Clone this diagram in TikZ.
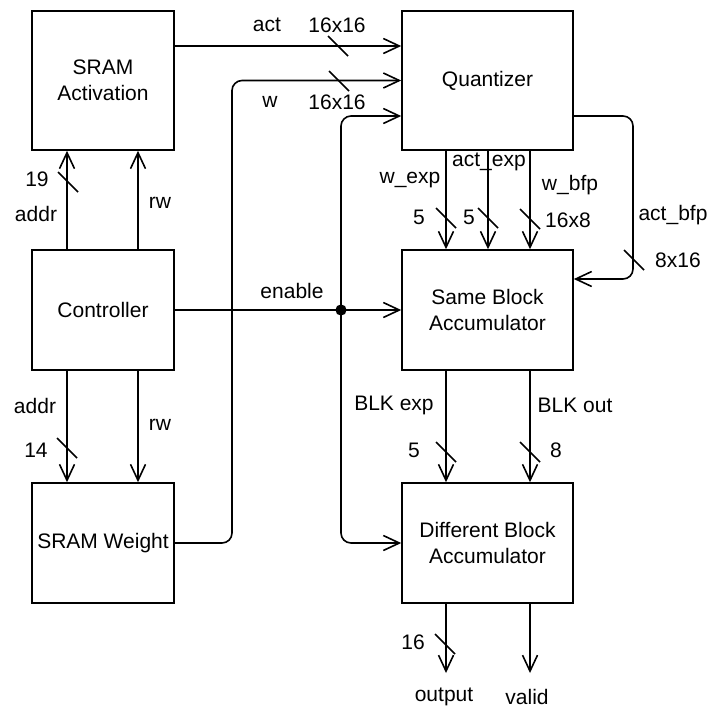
\documentclass[tikz,border=0pt]{standalone}
\usepackage{fontspec}
\setmainfont{Liberation Sans}
\usetikzlibrary{arrows.meta}
\begin{document}
\begin{tikzpicture}[font=\fontsize{10.5}{13}\selectfont,x=.5pt,y=-.5pt,line width=.8pt,
 >={Straight Barb[length=8pt,width=7.5pt]},
 blk/.style={draw,align=center,minimum width=71pt,minimum height=60pt,inner sep=2pt},
 lbl/.style={inner sep=0pt},
 dot/.style={circle,fill,inner sep=0pt,minimum size=5.6pt}]
\useasboundingbox (0,0) rectangle (710,708);
% blocks
\node[blk,minimum height=69.5pt] (sact) at (103,80.5) {SRAM\\Activation};
\node[blk] (ctrl) at (103,310) {Controller};
\node[blk] (swt) at (103,543) {SRAM Weight};
\node[blk,minimum width=85.5pt,minimum height=69.5pt] (quant) at (487.5,80.5) {Quantizer};
\node[blk,minimum width=85.5pt] (same) at (487.5,310) {Same Block\\Accumulator};
\node[blk,minimum width=85.5pt] (diff) at (487.5,543) {Different Block\\Accumulator};
% controller to memories
\draw[->] ([xshift=-18pt]ctrl.north) -- ([xshift=-18pt]sact.south);
\draw[->] ([xshift=17.5pt]ctrl.north) -- ([xshift=17.5pt]sact.south);
\draw[->] ([xshift=-18pt]ctrl.south) -- ([xshift=-18pt]swt.north);
\draw[->] ([xshift=17.5pt]ctrl.south) -- ([xshift=17.5pt]swt.north);
% quantizer inputs
\draw[->] ([yshift=17.25pt]sact.east) -- ([yshift=17.25pt]quant.west);
\coordinate (wx) at (232,0);
\draw[->,rounded corners=5pt] (swt.east) -| (wx |- quant.west) -- (quant.west);
% enable
\draw[->] (ctrl.east) -- (same.west);
\node[dot] (j) at (341,310) {};
\draw[->,rounded corners=5pt] (j.center) |- ([yshift=-17.75pt]quant.west);
\draw[->,rounded corners=5pt] (j.center) |- (diff.west);
% quantizer outputs
\foreach \s in {-20.75pt,0.25pt,21.25pt}
 \draw[->] ([xshift=\s]quant.south) -- ([xshift=\s]same.north);
\coordinate (bfpx) at (633,0);
\coordinate (bfpin) at ([yshift=15.5pt]same.east);
\draw[->,rounded corners=5pt] ([yshift=-17.75pt]quant.east) -| (bfpx |- bfpin) -- (bfpin);
% accumulators
\foreach \s in {-20.75pt,21.25pt}
 \draw[->] ([xshift=\s]same.south) -- ([xshift=\s]diff.north);
\coordinate (out) at (446,673);
\coordinate (vld) at (530,673);
\draw[->] (diff.south -| out) -- (out);
\draw[->] (diff.south -| vld) -- (vld);
% bus widths
\foreach \x/\y in {338/46,339/81,68/182,67/448,446/218,488/218,530/219,634/260,446/452,530/452,445/644}
 \draw (\x-10,\y-10) -- (\x+10,\y+10);
% labels
\foreach \x/\y/\lab/\nm in {267/25/act/la,337/25/16x16/lb,270/102/w/lc,337/102/16x16/ld,292/291/enable/le,
 37/179/19/lf,36/214/addr/lg,160/203/rw/lh,35/406/addr/li,36/450/14/lj,160/425/rw/lk,
 410/180/w\_exp/ll,489/162/act\_exp/lm,570/185/w\_bfp/ln,419/217/5/lo,469/217/5/lp,568/220/16x8/lq,
 673/215/act\_bfp/lr,678/260/8x16/ls,394/405/BLK exp/lt,575/405/BLK out/lu,414/450/5/lv,556/450/8/lw,
 413/642/16/lx,444/697/output/ly,527/697/valid/lz}{
 \node[lbl] (\nm) at (\x,\y) {\lab};
}
\end{tikzpicture}
\end{document}
